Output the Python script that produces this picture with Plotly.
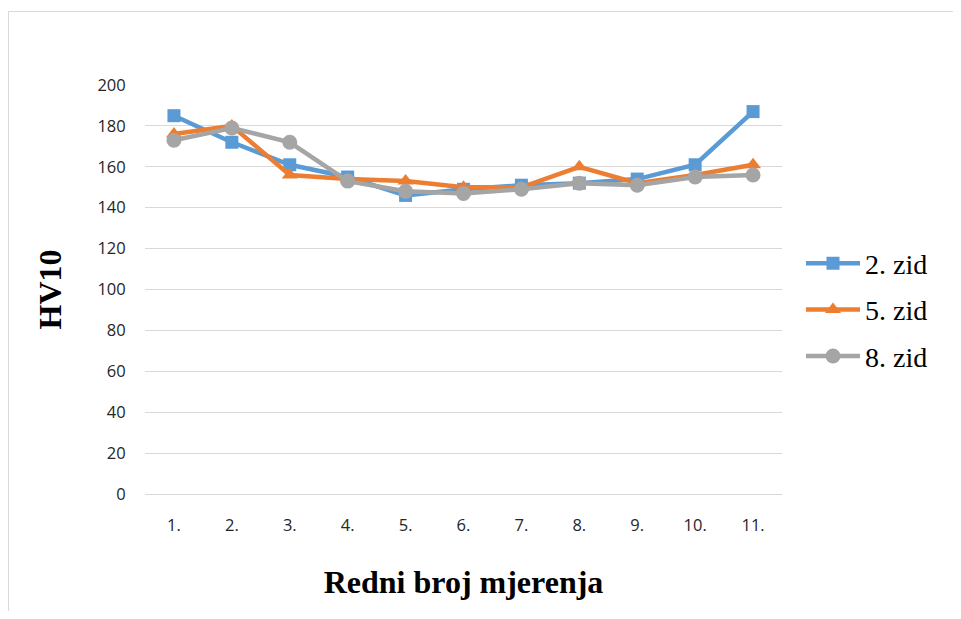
import plotly.graph_objects as go

categories = ["1.", "2.", "3.", "4.", "5.", "6.", "7.", "8.", "9.", "10.", "11."]
zid2 = [185, 172, 161, 155, 146, 149, 151, 152, 154, 161, 187]
zid5 = [176, 180, 156, 154, 153, 150, 150, 160, 152, 156, 161]
zid8 = [173, 179, 172, 153, 148, 147, 149, 152, 151, 155, 156]
y_ticks = [0, 20, 40, 60, 80, 100, 120, 140, 160, 180, 200]

W, H = 945, 603
L, R, T, B = 137, 171, 77, 117
pw, ph = W - L - R, H - T - B

fig = go.Figure()
series = [
    ("2. zid", zid2, "#5b9bd5", "square", 13),
    ("5. zid", zid5, "#ed7d31", "triangle-up", 14),
    ("8. zid", zid8, "#a5a5a5", "circle", 15),
]
for name, vals, col, sym, sz in series:
    fig.add_trace(go.Scatter(
        x=categories, y=vals, name=name, mode="lines+markers", legendgroup=name,
        line=dict(color=col, width=4.5),
        marker=dict(symbol=sym, size=sz, color=col),
    ))

tick_font = dict(family="Open Sans, Liberation Sans, sans-serif", size=16.5, color="#262626")
title_font = dict(family="Liberation Serif, Times New Roman, serif", size=32, color="black")

fig.update_layout(
    width=W, height=H,
    margin=dict(l=L, r=R, t=T, b=B),
    paper_bgcolor="white", plot_bgcolor="white",
    showlegend=True,
    legend=dict(
        x=1.0 + 19 / pw, xanchor="left", y=0.45, yanchor="middle",
        font=dict(family="Liberation Serif, Times New Roman, serif", size=28, color="black"),
        itemwidth=54, tracegroupgap=7, bgcolor="rgba(0,0,0,0)",
    ),
    xaxis=dict(
        type="category", range=[-0.5, 10.5],
        showgrid=False, showline=True, linecolor="#d9d9d9", linewidth=1,
        ticks="outside", ticklen=16, tickcolor="rgba(0,0,0,0)",
        tickfont=tick_font,
        title=dict(text="<b>Redni broj mjerenja</b>", standoff=35, font=title_font),
        fixedrange=True,
    ),
    yaxis=dict(
        range=[0, 200], tickvals=y_ticks, showgrid=True, gridcolor="#d9d9d9", gridwidth=1,
        zeroline=False, showline=False,
        ticks="outside", ticklen=15, tickcolor="rgba(0,0,0,0)",
        tickfont=tick_font,
        title=dict(text="<b>HV10</b>", standoff=26, font=title_font),
        fixedrange=True,
    ),
)

# outer chart border (partially visible, like reference)
fig.add_shape(type="rect", xref="paper", yref="paper",
              x0=(0.5 - L) / pw, x1=(W + 20 - L) / pw,
              y0=-(H + 20 - T - ph) / ph, y1=(T + ph - 3.5) / ph,
              line=dict(color="#d9d9d9", width=1), fillcolor="rgba(0,0,0,0)", layer="below")

fig.write_html("out.html")
